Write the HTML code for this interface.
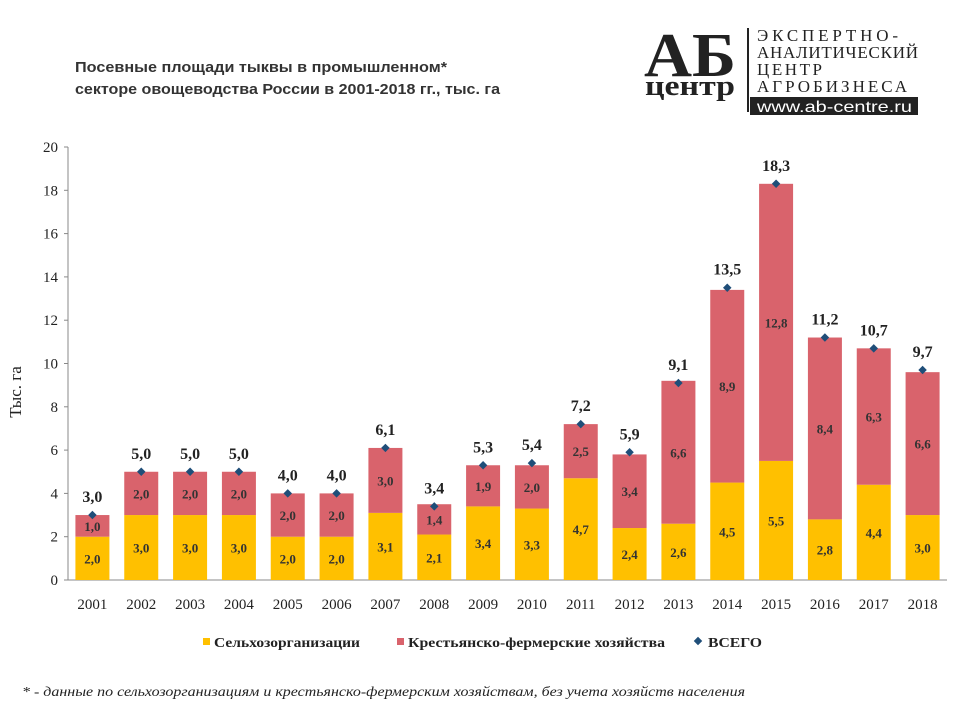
<!DOCTYPE html>
<html><head><meta charset="utf-8"><style>
body{margin:0;width:960px;height:720px;background:#fff;overflow:hidden;font-family:"Liberation Sans",sans-serif}
svg{display:block}
</style></head><body>
<svg id="c" width="960" height="720" xmlns="http://www.w3.org/2000/svg">
<text x="75" y="72" font-size="15" font-weight="bold" fill="#333" textLength="372" lengthAdjust="spacingAndGlyphs">Посевные площади тыквы в промышленном*</text>
<text x="75" y="94" font-size="15" font-weight="bold" fill="#333" textLength="425" lengthAdjust="spacingAndGlyphs">секторе овощеводства России в 2001-2018 гг., тыс. га</text>
<g>
<text x="644" y="76" font-family="Liberation Serif,serif" font-size="62" font-weight="bold" fill="#222" textLength="92" lengthAdjust="spacingAndGlyphs">АБ</text>
<text x="645" y="95" font-family="Liberation Serif,serif" font-size="28" font-weight="bold" fill="#222" textLength="90" lengthAdjust="spacingAndGlyphs">центр</text>
<line x1="748" y1="28" x2="748" y2="112" stroke="#222" stroke-width="2"/>
<g font-family="Liberation Serif,serif" font-size="17" fill="#222" lengthAdjust="spacingAndGlyphs">
<text x="757" y="41" textLength="141">ЭКСПЕРТНО-</text>
<text x="757" y="58" textLength="161">АНАЛИТИЧЕСКИЙ</text>
<text x="757" y="75" textLength="65">ЦЕНТР</text>
<text x="757" y="92" textLength="150">АГРОБИЗНЕСА</text>
</g>
<rect x="750" y="97" width="168" height="18" fill="#222"/>
<text x="757" y="112" font-size="16" fill="#fff" textLength="155" lengthAdjust="spacingAndGlyphs">www.ab-centre.ru</text>
</g>
<text transform="translate(21,392) rotate(-90)" text-anchor="middle" font-family="Liberation Serif,serif" font-size="17" fill="#222">Тыс. га</text>
<g id="plot"></g>
<g>
<rect x="203" y="638" width="7" height="7" fill="#ffc000"/>
<text x="214" y="647" font-family="Liberation Serif,serif" font-size="14" font-weight="bold" fill="#222" textLength="146" lengthAdjust="spacingAndGlyphs">Сельхозорганизации</text>
<rect x="397" y="638" width="7" height="7" fill="#d9636c"/>
<text x="408" y="647" font-family="Liberation Serif,serif" font-size="14" font-weight="bold" fill="#222" textLength="257" lengthAdjust="spacingAndGlyphs">Крестьянско-фермерские хозяйства</text>
<rect x="695" y="638" width="6" height="6" fill="#1f4e79" transform="rotate(45 698 641)"/>
<text x="708" y="647" font-family="Liberation Serif,serif" font-size="14" font-weight="bold" fill="#222" textLength="54" lengthAdjust="spacingAndGlyphs">ВСЕГО</text>
</g>
<text x="22" y="696" font-family="Liberation Serif,serif" font-size="14" font-style="italic" fill="#222" textLength="723" lengthAdjust="spacingAndGlyphs">* - данные по сельхозорганизациям и крестьянско-фермерским  хозяйствам, без учета хозяйств населения</text>
</svg>
<script>
const years=["2001","2002","2003","2004","2005","2006","2007","2008","2009","2010","2011","2012","2013","2014","2015","2016","2017","2018"];
const agro=[2.0,3.0,3.0,3.0,2.0,2.0,3.1,2.1,3.4,3.3,4.7,2.4,2.6,4.5,5.5,2.8,4.4,3.0];
const farms=[1.0,2.0,2.0,2.0,2.0,2.0,3.0,1.4,1.9,2.0,2.5,3.4,6.6,8.9,12.8,8.4,6.3,6.6];
const totals=[3.0,5.0,5.0,5.0,4.0,4.0,6.1,3.4,5.3,5.4,7.2,5.9,9.1,13.5,18.3,11.2,10.7,9.7];
const yTicks=[0,2,4,6,8,10,12,14,16,18,20];
const NS="http://www.w3.org/2000/svg";
const g=document.getElementById('plot');
const X0=68,X1=947,Y0=580,Y1=147,YMAX=20;
const step=(X1-X0)/years.length,bw=34;
const yS=v=>Y0-(v/YMAX)*(Y0-Y1);
const xC=i=>X0+step*(i+0.5);
const fmt=v=>v.toFixed(1).replace('.',',');
function mk(t,a){const e=document.createElementNS(NS,t);for(const k in a)e.setAttribute(k,a[k]);g.appendChild(e);return e;}
let ax=mk('line',{x1:X0,y1:Y1,x2:X0,y2:Y0,stroke:'#888'});


let bx=mk('line',{x1:X0,y1:Y0,x2:X1,y2:Y0,stroke:'#888'});


yTicks.forEach(v=>{
 mk('line',{x1:X0-4,y1:yS(v),x2:X0,y2:yS(v),stroke:'#888'});
 const t=mk('text',{x:X0-10,y:yS(v)+5,'text-anchor':'end','font-family':'Liberation Serif,serif','font-size':15,fill:'#222'});
 t.textContent=v;
 
 
});
years.forEach((yr,i)=>{
 const cx=xC(i);
 const a=mk('rect',{x:cx-bw/2,y:yS(agro[i]),width:bw,height:Y0-yS(agro[i]),fill:'#ffc000'});
 
 
 const f=mk('rect',{x:cx-bw/2,y:yS(agro[i]+farms[i]),width:bw,height:yS(agro[i])-yS(agro[i]+farms[i]),fill:'#d9636c'});
 
 
 const la=mk('text',{x:cx,y:(yS(agro[i])+Y0)/2+5,'text-anchor':'middle','font-family':'Liberation Serif,serif','font-size':13,'font-weight':'bold',fill:'#333'});
 la.textContent=fmt(agro[i]);
 
 
 const lf=mk('text',{x:cx,y:(yS(agro[i])+yS(agro[i]+farms[i]))/2+5,'text-anchor':'middle','font-family':'Liberation Serif,serif','font-size':13,'font-weight':'bold',fill:'#333'});
 lf.textContent=fmt(farms[i]);
 
 
 const ty=yS(totals[i]);
 const m=mk('rect',{x:cx-3,y:ty-3,width:6,height:6,fill:'#1f4e79',transform:`rotate(45 ${cx} ${ty})`});
 
 
 const lt=mk('text',{x:cx,y:ty-13,'text-anchor':'middle','font-family':'Liberation Serif,serif','font-size':16,'font-weight':'bold',fill:'#222'});
 lt.textContent=fmt(totals[i]);
 
 
 const xl=mk('text',{x:cx,y:Y0+29,'text-anchor':'middle','font-family':'Liberation Serif,serif','font-size':15,fill:'#222'});
 xl.textContent=yr;
 
 
});
</script>
</body></html>
